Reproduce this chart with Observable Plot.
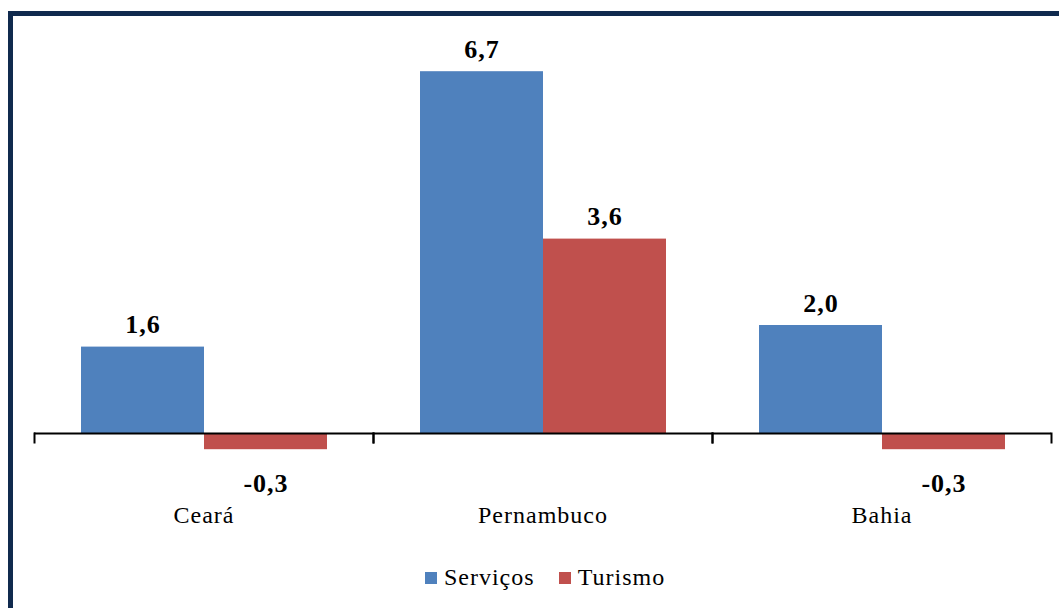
<!DOCTYPE html>
<html>
<head>
<meta charset="utf-8">
<script src="https://cdn.jsdelivr.net/npm/d3@7"></script>
<script src="https://cdn.jsdelivr.net/npm/@observablehq/plot@0.6"></script>
<style>
  html, body { margin: 0; padding: 0; background: #fff; }
  #wrap { position: relative; width: 1059px; height: 608px; overflow: hidden; background: #fff; }
  #chart { position: absolute; left: 0; top: 0; }
  #chart svg text { letter-spacing: 1px; }
  #border { position: absolute; left: 8px; top: 11px; width: 1100px; height: 700px;
            border-top: 5px solid #102A4E; border-left: 5px solid #102A4E; pointer-events: none; }
  #legend { position: absolute; left: 0; top: 561px; width: 1114px; display: flex; justify-content: center; }
  #legend > div { justify-content: center; margin: 0 !important; }
  #legend span { letter-spacing: 1px; }
  #legend svg { margin-right: 0.3em !important; }
</style>
</head>
<body>
<div id="wrap">
  <div id="chart"></div>
  <div id="legend"></div>
  <div id="border"></div>
</div>
<script>
const states = ["Ceará", "Pernambuco", "Bahia"];
const series = ["Serviços", "Turismo"];
const servicos = [1.6, 6.7, 2.0];
const turismo = [-0.3, 3.6, -0.3];
const colors = ["#4F81BD", "#C0504D"];

const data = [];
states.forEach((s, i) => {
  data.push({state: s, series: series[0], value: servicos[i]});
  data.push({state: s, series: series[1], value: turismo[i]});
});
const fmt = v => v.toFixed(1).replace(".", ",");
const serif = "Liberation Serif, Times New Roman, serif";

const chart = Plot.plot({
  width: 1059,
  height: 545,
  marginLeft: 33,
  marginRight: 8,
  marginTop: 1,
  marginBottom: 31,
  style: {background: "transparent"},
  fx: {domain: states, padding: 0, axis: null},
  x: {domain: series, paddingInner: 0, paddingOuter: 0.378, axis: null},
  y: {domain: [-1.5, 8], axis: null},
  color: {domain: series, range: colors},
  marks: [
    Plot.barY(data, {fx: "state", x: "series", y: "value", fill: "series"}),
    Plot.ruleY([0], {stroke: "#000", strokeWidth: 2}),
    Plot.frame({anchor: "left", insetTop: 432, insetBottom: 72, stroke: "#000", strokeWidth: 2}),
    Plot.frame({anchor: "right", insetTop: 432, insetBottom: 72, stroke: "#000", strokeWidth: 2}),
    Plot.text(data.filter(d => d.value >= 0), {
      fx: "state", x: "series", y: "value", text: d => fmt(d.value),
      dy: -22, fontFamily: serif, fontSize: 26, fontWeight: "bold", fill: "#000"
    }),
    Plot.text(data.filter(d => d.value < 0), {
      fx: "state", x: "series", y: "value", text: d => fmt(d.value),
      dy: 34, fontFamily: serif, fontSize: 26, fontWeight: "bold", fill: "#000"
    }),
    Plot.text(states, {
      fx: d => d, text: d => d, frameAnchor: "bottom", dy: 8,
      fontFamily: serif, fontSize: 24, fill: "#000"
    })
  ]
});
document.getElementById("chart").appendChild(chart);

const legend = Plot.legend({
  color: {domain: series, range: colors},
  legend: "swatches",
  swatchSize: 12,
  style: {fontFamily: serif, fontSize: "24px", color: "#000"}
});
document.getElementById("legend").appendChild(legend);
</script>
</body>
</html>
